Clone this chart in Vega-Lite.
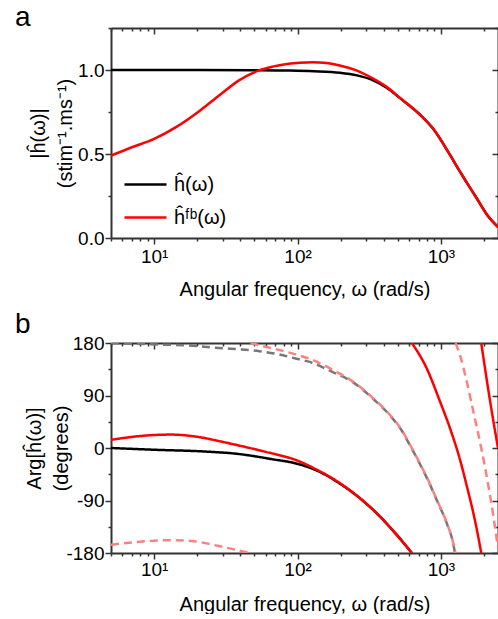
{
  "$schema": "https://vega.github.io/schema/vega-lite/v6.json",
  "background": "white",
  "padding": {"left": 15, "top": 4, "right": 0, "bottom": 0},
  "spacing": 12,
  "config": {
    "font": "Liberation Sans",
    "view": {"stroke": null},
    "axis": {"grid": false, "domainColor": "#333", "domainWidth": 2, "tickColor": "#333", "tickWidth": 1.5, "labelFontSize": 19, "labelColor": "#000", "titleFontSize": 20, "titleFontWeight": "normal", "titleColor": "#000", "labelFont": "Liberation Sans", "titleFont": "Liberation Sans"}
  },
  "resolve": {"scale": {"color": "independent", "strokeDash": "independent"}},
  "datasets": {
    "mag": [
      {"w":5,"v":1.0,"s":"ĥ(ω)"},{"w":20,"v":1.0,"s":"ĥ(ω)"},{"w":50,"v":0.999,"s":"ĥ(ω)"},{"w":88,"v":0.997,"s":"ĥ(ω)"},{"w":130,"v":0.993,"s":"ĥ(ω)"},{"w":197,"v":0.984,"s":"ĥ(ω)"},{"w":260,"v":0.968,"s":"ĥ(ω)"},{"w":334,"v":0.94,"s":"ĥ(ω)"},{"w":420,"v":0.893,"s":"ĥ(ω)"},{"w":516,"v":0.834,"s":"ĥ(ω)"},{"w":713,"v":0.735,"s":"ĥ(ω)"},{"w":883,"v":0.65,"s":"ĥ(ω)"},{"w":1156,"v":0.495,"s":"ĥ(ω)"},{"w":1358,"v":0.395,"s":"ĥ(ω)"},{"w":1514,"v":0.33,"s":"ĥ(ω)"},{"w":1780,"v":0.235,"s":"ĥ(ω)"},{"w":2089,"v":0.14,"s":"ĥ(ω)"},{"w":2500,"v":0.065,"s":"ĥ(ω)"},
      {"w":5,"v":0.49,"s":"ĥᶠᵇ(ω)"},{"w":7,"v":0.54,"s":"ĥᶠᵇ(ω)"},{"w":10,"v":0.59,"s":"ĥᶠᵇ(ω)"},{"w":14.2,"v":0.66,"s":"ĥᶠᵇ(ω)"},{"w":20.6,"v":0.755,"s":"ĥᶠᵇ(ω)"},{"w":28.5,"v":0.85,"s":"ĥᶠᵇ(ω)"},{"w":39.3,"v":0.94,"s":"ĥᶠᵇ(ω)"},{"w":54,"v":0.998,"s":"ĥᶠᵇ(ω)"},{"w":67,"v":1.02,"s":"ĥᶠᵇ(ω)"},{"w":80,"v":1.033,"s":"ĥᶠᵇ(ω)"},{"w":103,"v":1.043,"s":"ĥᶠᵇ(ω)"},{"w":127,"v":1.046,"s":"ĥᶠᵇ(ω)"},{"w":160,"v":1.041,"s":"ĥᶠᵇ(ω)"},{"w":197,"v":1.027,"s":"ĥᶠᵇ(ω)"},{"w":260,"v":0.996,"s":"ĥᶠᵇ(ω)"},{"w":334,"v":0.95,"s":"ĥᶠᵇ(ω)"},{"w":420,"v":0.898,"s":"ĥᶠᵇ(ω)"},{"w":516,"v":0.835,"s":"ĥᶠᵇ(ω)"},{"w":713,"v":0.735,"s":"ĥᶠᵇ(ω)"},{"w":883,"v":0.65,"s":"ĥᶠᵇ(ω)"},{"w":1156,"v":0.495,"s":"ĥᶠᵇ(ω)"},{"w":1358,"v":0.395,"s":"ĥᶠᵇ(ω)"},{"w":1514,"v":0.33,"s":"ĥᶠᵇ(ω)"},{"w":1780,"v":0.235,"s":"ĥᶠᵇ(ω)"},{"w":2089,"v":0.14,"s":"ĥᶠᵇ(ω)"},{"w":2500,"v":0.065,"s":"ĥᶠᵇ(ω)"}
    ],
    "phase": [
      {"w":5,"v":180,"s":"h180","d":"dashed","b":"g1"},{"w":12.3,"v":177,"s":"h180","d":"dashed","b":"g1"},{"w":17,"v":176,"s":"h180","d":"dashed","b":"g1"},{"w":29.9,"v":171,"s":"h180","d":"dashed","b":"g1"},{"w":40.6,"v":169,"s":"h180","d":"dashed","b":"g1"},{"w":54.2,"v":166,"s":"h180","d":"dashed","b":"g1"},{"w":72.4,"v":161,"s":"h180","d":"dashed","b":"g1"},{"w":98.4,"v":153,"s":"h180","d":"dashed","b":"g1"},{"w":127,"v":146,"s":"h180","d":"dashed","b":"g1"},{"w":176,"v":130,"s":"h180","d":"dashed","b":"g1"},{"w":243,"v":113,"s":"h180","d":"dashed","b":"g1"},{"w":334,"v":85,"s":"h180","d":"dashed","b":"g1"},{"w":440,"v":56,"s":"h180","d":"dashed","b":"g1"},{"w":542,"v":27,"s":"h180","d":"dashed","b":"g1"},{"w":607,"v":5,"s":"h180","d":"dashed","b":"g1"},{"w":658,"v":-11,"s":"h180","d":"dashed","b":"g1"},{"w":811,"v":-55,"s":"h180","d":"dashed","b":"g1"},{"w":953,"v":-94,"s":"h180","d":"dashed","b":"g1"},{"w":1102,"v":-130,"s":"h180","d":"dashed","b":"g1"},{"w":1213,"v":-162,"s":"h180","d":"dashed","b":"g1"},{"w":1253,"v":-180,"s":"h180","d":"dashed","b":"g1"},
      {"w":5,"v":-166,"s":"fb180","d":"dashed","b":"p1"},{"w":7.6,"v":-161,"s":"fb180","d":"dashed","b":"p1"},{"w":13.1,"v":-158,"s":"fb180","d":"dashed","b":"p1"},{"w":19,"v":-160,"s":"fb180","d":"dashed","b":"p1"},{"w":29.4,"v":-169,"s":"fb180","d":"dashed","b":"p1"},{"w":36.3,"v":-174,"s":"fb180","d":"dashed","b":"p1"},{"w":44.6,"v":-179,"s":"fb180","d":"dashed","b":"p1"},{"w":47,"v":-180,"s":"fb180","d":"dashed","b":"p1"},
      {"w":47,"v":180,"s":"fb180","d":"dashed","b":"p2"},{"w":58.7,"v":174,"s":"fb180","d":"dashed","b":"p2"},{"w":69.1,"v":170,"s":"fb180","d":"dashed","b":"p2"},{"w":95.2,"v":161,"s":"fb180","d":"dashed","b":"p2"},{"w":121,"v":153,"s":"fb180","d":"dashed","b":"p2"},{"w":176,"v":134,"s":"fb180","d":"dashed","b":"p2"},{"w":243,"v":114,"s":"fb180","d":"dashed","b":"p2"},{"w":334,"v":86,"s":"fb180","d":"dashed","b":"p2"},{"w":440,"v":57,"s":"fb180","d":"dashed","b":"p2"},{"w":542,"v":28,"s":"fb180","d":"dashed","b":"p2"},{"w":607,"v":6,"s":"fb180","d":"dashed","b":"p2"},{"w":658,"v":-10,"s":"fb180","d":"dashed","b":"p2"},{"w":811,"v":-54,"s":"fb180","d":"dashed","b":"p2"},{"w":953,"v":-93,"s":"fb180","d":"dashed","b":"p2"},{"w":1102,"v":-129,"s":"fb180","d":"dashed","b":"p2"},{"w":1213,"v":-161,"s":"fb180","d":"dashed","b":"p2"},{"w":1265,"v":-180,"s":"fb180","d":"dashed","b":"p2"},
      {"w":1265,"v":180,"s":"fb180","d":"dashed","b":"p3"},{"w":1358,"v":159,"s":"fb180","d":"dashed","b":"p3"},{"w":1514,"v":114,"s":"fb180","d":"dashed","b":"p3"},{"w":1684,"v":62,"s":"fb180","d":"dashed","b":"p3"},{"w":1910,"v":0,"s":"fb180","d":"dashed","b":"p3"},{"w":2143,"v":-65,"s":"fb180","d":"dashed","b":"p3"},{"w":2316,"v":-115,"s":"fb180","d":"dashed","b":"p3"},{"w":2445,"v":-155,"s":"fb180","d":"dashed","b":"p3"},{"w":2500,"v":-170,"s":"fb180","d":"dashed","b":"p3"},
      {"w":5,"v":0,"s":"h","d":"solid","b":"k1"},{"w":10,"v":-3,"s":"h","d":"solid","b":"k1"},{"w":22.4,"v":-6,"s":"h","d":"solid","b":"k1"},{"w":38,"v":-10,"s":"h","d":"solid","b":"k1"},{"w":65.8,"v":-19,"s":"h","d":"solid","b":"k1"},{"w":103,"v":-28,"s":"h","d":"solid","b":"k1"},{"w":143,"v":-41,"s":"h","d":"solid","b":"k1"},{"w":197,"v":-61,"s":"h","d":"solid","b":"k1"},{"w":272,"v":-86,"s":"h","d":"solid","b":"k1"},{"w":374,"v":-117,"s":"h","d":"solid","b":"k1"},{"w":492,"v":-149,"s":"h","d":"solid","b":"k1"},{"w":627,"v":-180,"s":"h","d":"solid","b":"k1"},
      {"w":5,"v":14,"s":"fb","d":"solid","b":"r1"},{"w":7.6,"v":20,"s":"fb","d":"solid","b":"r1"},{"w":13.1,"v":23,"s":"fb","d":"solid","b":"r1"},{"w":19,"v":20,"s":"fb","d":"solid","b":"r1"},{"w":29.4,"v":11,"s":"fb","d":"solid","b":"r1"},{"w":36.3,"v":6,"s":"fb","d":"solid","b":"r1"},{"w":44.6,"v":1,"s":"fb","d":"solid","b":"r1"},{"w":58.7,"v":-6,"s":"fb","d":"solid","b":"r1"},{"w":103,"v":-23,"s":"fb","d":"solid","b":"r1"},{"w":143,"v":-40,"s":"fb","d":"solid","b":"r1"},{"w":197,"v":-60,"s":"fb","d":"solid","b":"r1"},{"w":272,"v":-86,"s":"fb","d":"solid","b":"r1"},{"w":374,"v":-117,"s":"fb","d":"solid","b":"r1"},{"w":492,"v":-149,"s":"fb","d":"solid","b":"r1"},{"w":627,"v":-180,"s":"fb","d":"solid","b":"r1"},
      {"w":627,"v":180,"s":"fb","d":"solid","b":"r2"},{"w":794,"v":137,"s":"fb","d":"solid","b":"r2"},{"w":984,"v":80,"s":"fb","d":"solid","b":"r2"},{"w":1156,"v":34,"s":"fb","d":"solid","b":"r2"},{"w":1358,"v":-20,"s":"fb","d":"solid","b":"r2"},{"w":1514,"v":-65,"s":"fb","d":"solid","b":"r2"},{"w":1684,"v":-112,"s":"fb","d":"solid","b":"r2"},{"w":1770,"v":-137,"s":"fb","d":"solid","b":"r2"},{"w":1910,"v":-180,"s":"fb","d":"solid","b":"r2"},
      {"w":1910,"v":180,"s":"fb","d":"solid","b":"r3"},{"w":2203,"v":80,"s":"fb","d":"solid","b":"r3"},{"w":2500,"v":0,"s":"fb","d":"solid","b":"r3"}
    ]
  },
  "vconcat": [
    {
      "width": 387, "height": 210,
      "title": {"text": "a", "anchor": "start", "frame": "group", "fontSize": 28, "fontWeight": "normal", "dx": -96, "offset": -27, "baseline": "alphabetic", "color": "#000"},
      "data": {"name": "mag"},
      "layer": [
        {
          "mark": {"type": "line", "strokeWidth": 2.5, "clip": true, "interpolate": "monotone"},
          "encoding": {
            "x": {"field": "w", "type": "quantitative", "scale": {"type": "log", "domain": [5, 2500], "nice": false},
              "axis": {"orient": "bottom", "values": [5,6,7,8,9,10,20,30,40,50,60,70,80,90,100,200,300,400,500,600,700,800,900,1000,2000], "labelExpr": "datum.value == 10 ? '10¹' : datum.value == 100 ? '10²' : datum.value == 1000 ? '10³' : ''", "tickSize": {"condition": {"test": "indexof([10,100,1000], datum.value) >= 0", "value": 6}, "value": 3}, "labelPadding": 3, "labelOverlap": false, "labelFlush": false, "title": "Angular frequency, ω (rad/s)", "titlePadding": 13}},
            "y": {"field": "v", "type": "quantitative", "scale": {"domain": [0, 1.25], "nice": false},
              "axis": {"orient": "left", "values": [0, 0.25, 0.5, 0.75, 1, 1.25], "labelExpr": "datum.value == 0 ? '0.0' : datum.value == 0.5 ? '0.5' : datum.value == 1 ? '1.0' : ''", "tickSize": {"condition": {"test": "datum.value * 2 % 1 == 0", "value": 6}, "value": 3}, "labelPadding": 1, "title": ["|ĥ(ω)|", "(stim⁻¹.ms⁻¹)"], "titlePadding": 2, "titleLineHeight": 27}},
            "color": {"field": "s", "type": "nominal", "scale": {"domain": ["ĥ(ω)", "ĥᶠᵇ(ω)"], "range": ["#000000", "#ff0000"]},
              "legend": {"orient": "none", "legendX": 12, "legendY": 134, "title": null, "labelFontSize": 20, "labelFont": "Liberation Sans", "labelColor": "#000", "symbolType": "stroke", "symbolSize": 1764, "symbolStrokeWidth": 2.5, "labelOffset": 6, "rowPadding": -1}}
          }
        },
        {
          "mark": {"type": "line", "opacity": 0},
          "encoding": {
            "x": {"field": "w", "type": "quantitative", "scale": {"type": "log", "domain": [5, 2500], "nice": false},
              "axis": {"orient": "top", "minExtent": 0, "maxExtent": 0, "values": [5,6,7,8,9,10,20,30,40,50,60,70,80,90,100,200,300,400,500,600,700,800,900,1000,2000], "labels": false, "title": null, "tickSize": {"condition": {"test": "indexof([10,100,1000], datum.value) >= 0", "value": -6}, "value": -3}}},
            "y": {"field": "v", "type": "quantitative", "scale": {"domain": [0, 1.25], "nice": false},
              "axis": {"orient": "right", "minExtent": 0, "maxExtent": 0, "values": [0, 0.25, 0.5, 0.75, 1, 1.25], "labels": false, "title": null, "tickSize": {"condition": {"test": "datum.value * 2 % 1 == 0", "value": -6}, "value": -3}}}
          }
        }
      ],
      "resolve": {"axis": {"x": "independent", "y": "independent"}}
    },
    {
      "width": 387, "height": 210,
      "title": {"text": "b", "anchor": "start", "frame": "group", "fontSize": 28, "fontWeight": "normal", "dx": -96, "offset": -27, "baseline": "alphabetic", "color": "#000"},
      "data": {"name": "phase"},
      "layer": [
        {
          "mark": {"type": "line", "strokeWidth": 2.5, "clip": true, "interpolate": "monotone"},
          "encoding": {
            "x": {"field": "w", "type": "quantitative", "scale": {"type": "log", "domain": [5, 2500], "nice": false},
              "axis": {"orient": "bottom", "values": [5,6,7,8,9,10,20,30,40,50,60,70,80,90,100,200,300,400,500,600,700,800,900,1000,2000], "labelExpr": "datum.value == 10 ? '10¹' : datum.value == 100 ? '10²' : datum.value == 1000 ? '10³' : ''", "tickSize": {"condition": {"test": "indexof([10,100,1000], datum.value) >= 0", "value": 6}, "value": 3}, "labelPadding": 1, "labelOverlap": false, "labelFlush": false, "title": "Angular frequency, ω (rad/s)", "titlePadding": 15}},
            "y": {"field": "v", "type": "quantitative", "scale": {"domain": [-180, 180], "nice": false},
              "axis": {"orient": "left", "values": [-180, -135, -90, -45, 0, 45, 90, 135, 180], "labelExpr": "datum.value % 90 == 0 ? '' + datum.value : ''", "tickSize": {"condition": {"test": "datum.value % 90 == 0", "value": 6}, "value": 3}, "labelPadding": 1, "title": ["Arg[ĥ(ω)]", "(degrees)"], "titlePadding": -6, "titleLineHeight": 27}},
            "color": {"field": "s", "type": "nominal", "scale": {"domain": ["h180", "fb180", "h", "fb"], "range": ["#777777", "#ff8080", "#000000", "#ff0000"]}, "legend": null},
            "strokeDash": {"field": "d", "type": "nominal", "scale": {"domain": ["solid", "dashed"], "range": [[1, 0], [8, 5]]}, "legend": null},
            "detail": {"field": "b", "type": "nominal"}
          }
        },
        {
          "mark": {"type": "line", "opacity": 0},
          "encoding": {
            "x": {"field": "w", "type": "quantitative", "scale": {"type": "log", "domain": [5, 2500], "nice": false},
              "axis": {"orient": "top", "minExtent": 0, "maxExtent": 0, "values": [5,6,7,8,9,10,20,30,40,50,60,70,80,90,100,200,300,400,500,600,700,800,900,1000,2000], "labels": false, "title": null, "tickSize": {"condition": {"test": "indexof([10,100,1000], datum.value) >= 0", "value": -6}, "value": -3}}},
            "y": {"field": "v", "type": "quantitative", "scale": {"domain": [-180, 180], "nice": false},
              "axis": {"orient": "right", "minExtent": 0, "maxExtent": 0, "values": [-180, -135, -90, -45, 0, 45, 90, 135, 180], "labels": false, "title": null, "tickSize": {"condition": {"test": "datum.value % 90 == 0", "value": -6}, "value": -3}}},
            "detail": {"field": "b", "type": "nominal"}
          }
        }
      ],
      "resolve": {"axis": {"x": "independent", "y": "independent"}}
    }
  ]
}
